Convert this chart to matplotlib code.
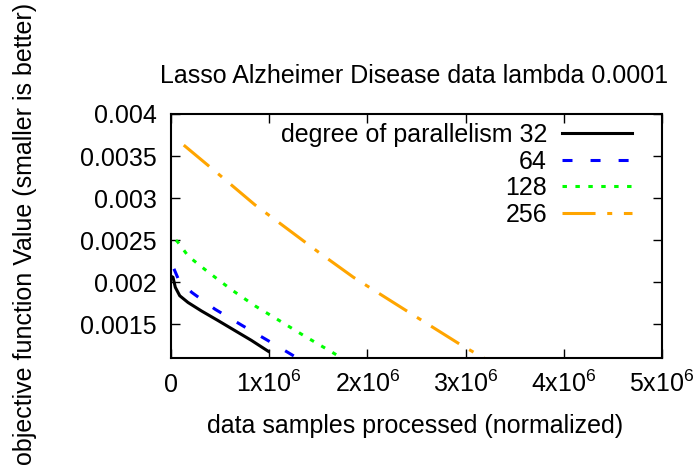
import matplotlib
matplotlib.use("Agg")
import matplotlib.pyplot as plt

plt.rcParams["font.family"] = ["Liberation Sans", "DejaVu Sans"]
plt.rcParams["mathtext.default"] = "regular"
plt.rcParams["lines.scale_dashes"] = False

title = "Lasso Alzheimer Disease data lambda 0.0001"
x_label = "data samples processed (normalized)"
y_label = "objective function Value (smaller is better)"
legend_labels = ["degree of parallelism 32", "64", "128", "256"]

MILLION = 1e6
x_p32 = [0.003, 0.02, 0.044, 0.089, 0.173, 0.309, 0.479, 0.649, 0.818, 0.99]
y_p32 = [0.00207, 0.00206, 0.00194, 0.00184, 0.00176, 0.00166, 0.001545, 0.001427, 0.00131, 0.00118]
x_p64 = [0.03, 0.074, 0.211, 0.448, 0.72, 1.042, 1.3]
y_p64 = [0.00216, 0.00204, 0.00188, 0.00168, 0.00149, 0.00127, 0.00109]
x_p128 = [0.05, 0.068, 0.176, 0.38, 0.618, 0.855, 1.11, 1.347, 1.653, 1.75]
y_p128 = [0.0025, 0.00248, 0.00231, 0.00212, 0.00191, 0.00172, 0.00154, 0.00137, 0.00116, 0.00109]
x_p256 = [0.13, 0.5, 0.855, 1.11, 1.5, 1.857, 2.4, 2.96, 3.2]
y_p256 = [0.00363, 0.00327, 0.00292, 0.0027, 0.00236, 0.00206, 0.00166, 0.00125, 0.00109]

x_ticks = [0, 1, 2, 3, 4, 5]
x_tick_labels = ["0", "1x10$^{6}$", "2x10$^{6}$", "3x10$^{6}$", "4x10$^{6}$", "5x10$^{6}$"]
y_ticks = [0.0015, 0.002, 0.0025, 0.003, 0.0035, 0.004]
y_tick_labels = ["0.0015", "0.002", "0.0025", "0.003", "0.0035", "0.004"]

series = [
    (x_p32, y_p32, "black", (None, None)),
    (x_p64, y_p64, "#0000ff", (0, (7.2, 13))),
    (x_p128, y_p128, "#00ff00", (0, (3.2, 6.1))),
    (x_p256, y_p256, "#ffa500", (0, (23.8, 8.4, 3.6, 8.4))),
]

fig = plt.figure(figsize=(6.99, 4.72), dpi=100)
ax = fig.add_axes([171 / 699, 1 - 358 / 472, 491 / 699, 244 / 472])

for (xs, ys, color, dash), label in zip(series, legend_labels):
    line, = ax.plot([v * MILLION for v in xs], ys, color=color, lw=2.2, label=label)
    if dash[0] is not None:
        line.set_linestyle(dash)

ax.set_xlim(0, 5 * MILLION)
ax.set_ylim(0.0011, 0.004)
ax.set_xticks([t * MILLION for t in x_ticks])
ax.set_xticklabels(x_tick_labels)
ax.set_yticks(y_ticks)
ax.set_yticklabels(y_tick_labels)
ax.tick_params(direction="in", length=6.5, width=1, top=True, right=True,
               labelsize=18)
ax.tick_params(axis="x", pad=24.5)
ax.tick_params(axis="y", pad=10)
for lab in ax.get_xticklabels():
    lab.set_va("baseline")
for spine in ax.spines.values():
    spine.set_linewidth(1.5)

ax.set_xlabel(x_label, fontsize=18, va="center")
ax.xaxis.set_label_coords(0.497, -0.28)
ax.set_ylabel(y_label, fontsize=18, va="center")
ax.yaxis.set_label_coords(-0.297, 0.508)
ax.text(0.496, 1.155, title, transform=ax.transAxes, ha="center", va="center",
        fontsize=18)

ax.legend(loc="upper right", bbox_to_anchor=(0.939, 0.963), frameon=False,
          markerfirst=False, fontsize=18, handlelength=2.8, handletextpad=0.6,
          labelspacing=0.1, borderpad=0, borderaxespad=0)

fig.savefig("out.png", dpi=100)
